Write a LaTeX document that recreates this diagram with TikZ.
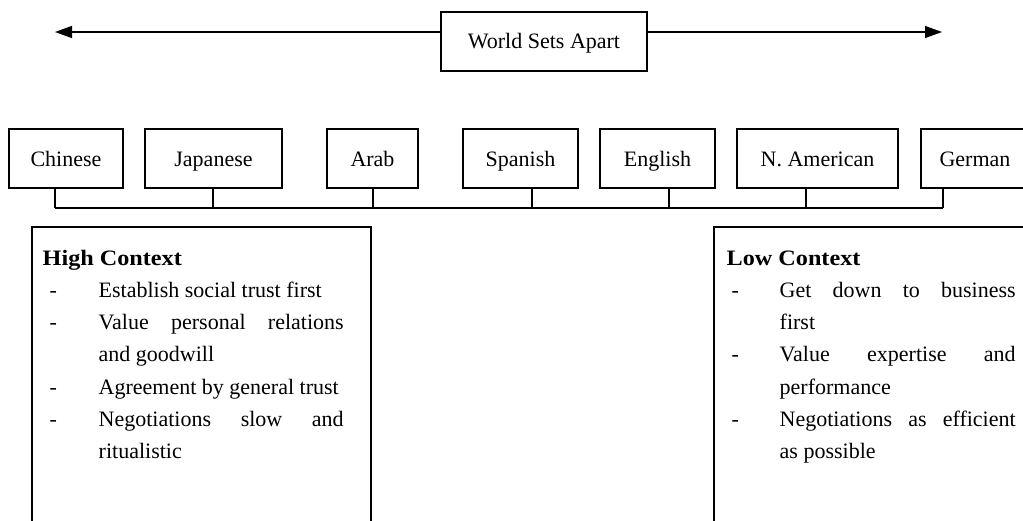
\documentclass[tikz,border=0pt]{standalone}
\usepackage{fontspec}
\setmainfont{Liberation Serif}
\usetikzlibrary{arrows.meta}

\begin{document}
\begin{tikzpicture}[x=1pt, y=-1pt, line width=1.4pt,
  txt/.style={font=\fontsize{22}{26}\selectfont, inner sep=0pt},
  box/.style={txt, draw, minimum height=59pt, text height=15.5pt, text depth=0pt},
  head/.style={txt, font=\fontsize{22}{26}\selectfont\bfseries, anchor=base west},
  item/.style={txt, anchor=base west},
  tip/.style={-{Triangle[length=17pt,width=12pt]}},
]
\useasboundingbox (0,0) rectangle (1023,520);
\clip (0,0) rectangle (1023,520);

% title with the two-way axis
\node[box, minimum width=206pt, text height=13pt] (world) at (544,41.5) {World Sets Apart};
\coordinate (axl) at (55,32);
\coordinate (axr) at (942,32);
\draw[tip] (world.west |- axl) -- (axl);
\draw[tip] (world.east |- axr) -- (axr);

% culture boxes
\node[box, minimum width=114pt] (chinese)  at (66,158.5)    {Chinese};
\node[box, minimum width=137pt] (japanese) at (213.5,158.5) {Japanese};
\node[box, minimum width=91pt]  (arab)     at (372.5,158.5) {Arab};
\node[box, minimum width=115pt] (spanish)  at (520.5,158.5) {Spanish};
\node[box, minimum width=115pt] (english)  at (657.5,158.5) {English};
\node[box, minimum width=161pt] (namer)    at (817.5,158.5) {N. American};
\node[box, minimum width=108pt] (german)   at (975,158.5)   {German};

% bus joining the boxes
\coordinate (b1) at (55,208);
\coordinate (b2) at (213,208);
\coordinate (b3) at (373,208);
\coordinate (b4) at (532,208);
\coordinate (b5) at (669,208);
\coordinate (b6) at (806,208);
\coordinate (b7) at (943,208);
\draw (b1) -- (b7);
\draw (b1) -- (b1 |- chinese.south);
\draw (b2) -- (b2 |- japanese.south);
\draw (b3) -- (b3 |- arab.south);
\draw (b4) -- (b4 |- spanish.south);
\draw (b5) -- (b5 |- english.south);
\draw (b6) -- (b6 |- namer.south);
\draw (b7) -- (b7 |- german.south);

% high context panel
\draw (32,540) -- (32,227) -- (371,227) -- (371,540);
\node[head] (hc) at (42,265) {\scalebox{1.1}[1]{High Context}};
\node[item] (hd1) at (49,297.3) {-};
\node[item] (h1)  at (98,297.3) {Establish social trust first};
\node[item] (hd2) at (49,329.6) {-};
\node[item] (h2)  at (98,329.6) {\makebox[245pt][s]{Value personal relations}};
\node[item] (h2b) at (98,361.9) {and goodwill};
\node[item] (hd3) at (49,394.2) {-};
\node[item] (h3)  at (98,394.2) {Agreement by general trust};
\node[item] (hd4) at (49,426.5) {-};
\node[item] (h4)  at (98,426.5) {\makebox[245pt][s]{Negotiations slow and}};
\node[item] (h4b) at (98,458.8) {ritualistic};

% low context panel
\draw (714,540) -- (714,227) -- (1040,227);
\node[head] (lc) at (726,265) {\scalebox{1.1}[1]{Low Context}};
\node[item] (ld1) at (731,297.3) {-};
\node[item] (l1)  at (779,297.3) {\makebox[236pt][s]{Get down to business}};
\node[item] (l1b) at (779,329.6) {first};
\node[item] (ld2) at (731,361.9) {-};
\node[item] (l2)  at (779,361.9) {\makebox[236pt][s]{Value expertise and}};
\node[item] (l2b) at (779,394.2) {performance};
\node[item] (ld3) at (731,426.5) {-};
\node[item] (l3)  at (779,426.5) {\makebox[236pt][s]{Negotiations as efficient}};
\node[item] (l3b) at (779,458.8) {as possible};
\end{tikzpicture}
\end{document}
